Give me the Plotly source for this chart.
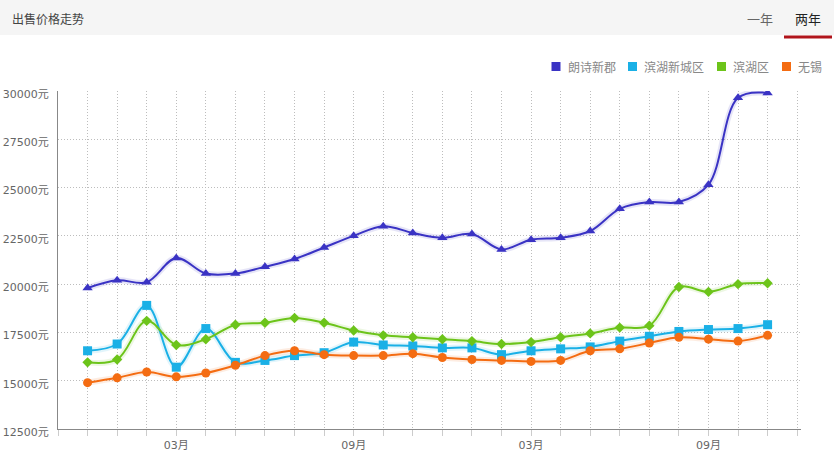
import plotly.graph_objects as go

W, H = 834, 457
ML, MR, MT, MB = 58, 33, 91, 28
PW, PH = W - ML - MR, H - MT - MB

# ---- data ----
months = ["12月", "01月", "02月", "03月", "04月", "05月", "06月", "07月", "08月", "09月", "10月", "11月",
          "12月", "01月", "02月", "03月", "04月", "05月", "06月", "07月", "08月", "09月", "10月", "11月"]
label_months = ["03月", "09月"]

series_names = ["朗诗新郡", "滨湖新城区", "滨湖区", "无锡"]
langshi = [19800, 20200, 20100, 21350, 20550, 20550, 20900, 21300, 21900, 22500, 23000, 22650,
           22400, 22600, 21800, 22300, 22400, 22750, 23900, 24250, 24250, 25150, 29650, 29900]
binhu_new = [16550, 16900, 18900, 15700, 17700, 15950, 16050, 16300, 16450, 17000, 16850, 16800,
             16700, 16700, 16350, 16550, 16650, 16750, 17050, 17300, 17550, 17650, 17700, 17900]
binhu = [15950, 16100, 18100, 16850, 17150, 17900, 18000, 18250, 18000, 17600, 17350, 17250,
         17150, 17050, 16900, 17000, 17250, 17450, 17750, 17850, 19850, 19600, 20000, 20050]
wuxi = [14900, 15150, 15450, 15200, 15400, 15800, 16300, 16550, 16350, 16300, 16300, 16400,
        16200, 16100, 16050, 16000, 16050, 16550, 16650, 16950, 17250, 17150, 17050, 17350]

y_ticks = [12500, 15000, 17500, 20000, 22500, 25000, 27500, 30000]

colors = ["#3A33C4", "#1AB0E6", "#6CC41A", "#F46C12"]
symbols = ["triangle-up", "square", "diamond", "circle"]
sizes = [9, 9, 8, 9]

x = list(range(len(months)))
data = [langshi, binhu_new, binhu, wuxi]

FONT = "DejaVu Sans, Noto Sans CJK SC, sans-serif"
CJK = "Noto Sans CJK SC, sans-serif"

fig = go.Figure()

# soft shadows under the lines
for vals, c in zip(data, colors):
    fig.add_trace(go.Scatter(x=x, y=vals, mode="lines", line=dict(color=c, width=6, shape="spline", smoothing=1),
                             opacity=0.12, showlegend=False, hoverinfo="skip"))
for name, vals, c, s, sz in zip(series_names, data, colors, symbols, sizes):
    fig.add_trace(go.Scatter(x=x, y=vals, mode="lines+markers", name=name,
                             line=dict(color=c, width=2, shape="spline", smoothing=1),
                             marker=dict(symbol=s, size=sz, color=c), showlegend=False))

tickvals = list(range(-1, len(months) + 1))
ticktext = [""] * len(tickvals)
for i, m in enumerate(months):
    if m in label_months:
        ticktext[i + 1] = m


def px_x(px):
    return (px - ML) / PW


def px_y(py):
    return 1 - (py - MT) / PH


shapes = [
    dict(type="rect", xref="paper", yref="paper", x0=px_x(0), x1=px_x(W), y0=px_y(35), y1=px_y(0),
         fillcolor="#F5F5F5", line=dict(width=0), layer="below"),
    dict(type="rect", xref="paper", yref="paper", x0=px_x(784), x1=px_x(832), y0=px_y(38.5), y1=px_y(35.5),
         fillcolor="#B0141B", line=dict(width=0)),
]

annotations = [
    dict(text="出售价格走势", xref="paper", yref="paper", x=px_x(10), y=px_y(18), xanchor="left", yanchor="middle",
         showarrow=False, font=dict(family=CJK, size=12, color="#444")),
    dict(text="一年", xref="paper", yref="paper", x=px_x(760), y=px_y(18), xanchor="center", yanchor="middle",
         showarrow=False, font=dict(family=CJK, size=13, color="#666")),
    dict(text="两年", xref="paper", yref="paper", x=px_x(808), y=px_y(18), xanchor="center", yanchor="middle",
         showarrow=False, font=dict(family=CJK, size=13, color="#222")),
]

# legend (Highcharts-style: square swatch followed by label)
legend_sq_x = [551.5, 628, 717, 782]
LEG_Y = 66.5
for name, c, lx in zip(series_names, colors, legend_sq_x):
    shapes.append(dict(type="rect", xref="paper", yref="paper", x0=px_x(lx), x1=px_x(lx + 9),
                       y0=px_y(LEG_Y + 4.5), y1=px_y(LEG_Y - 4.5), fillcolor=c, line=dict(width=0)))
    annotations.append(dict(text=name, xref="paper", yref="paper", x=px_x(lx + 14), y=px_y(LEG_Y),
                            xanchor="left", yanchor="middle", showarrow=False,
                            font=dict(family=CJK, size=12, color="#888")))

fig.update_layout(
    width=W, height=H,
    margin=dict(l=ML, r=MR, t=MT, b=MB, autoexpand=False),
    paper_bgcolor="white", plot_bgcolor="white",
    font=dict(family=FONT, size=11, color="#666"),
    shapes=shapes, annotations=annotations,
    hovermode=False, showlegend=False,
    xaxis=dict(range=[-1, 24.13], tickmode="array", tickvals=tickvals, ticktext=ticktext,
               showgrid=True, gridcolor="#BDBDBD", griddash="1px,2px", gridwidth=1,
               showline=True, linecolor="#888", linewidth=1, ticks="outside", ticklen=6, tickcolor="#ccc",
               zeroline=False, automargin=False, tickfont=dict(family=FONT, size=11, color="#666")),
    yaxis=dict(range=[12500, 30000], tickmode="array", tickvals=y_ticks,
               ticktext=[f"{v}元" for v in y_ticks],
               showgrid=True, gridcolor="#BDBDBD", griddash="1px,2px", gridwidth=1,
               showline=True, linecolor="#888", linewidth=1, zeroline=False, automargin=False,
               ticks="", ticklabelstandoff=6, ticklabelshift=3,
               tickfont=dict(family=FONT, size=11, color="#666")),
)

fig.write_html("out.html")
